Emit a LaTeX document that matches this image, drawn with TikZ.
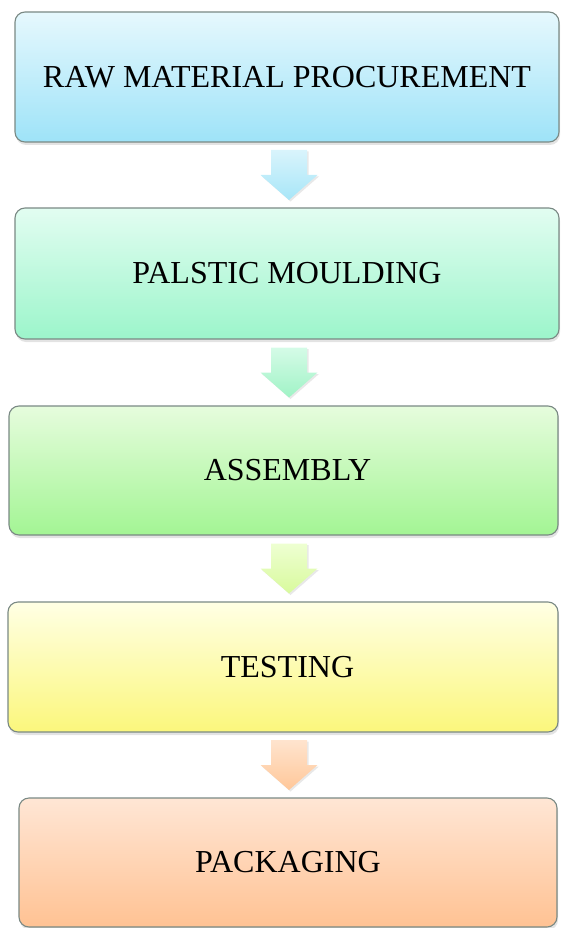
\documentclass[tikz,border=0pt]{standalone}
\usepackage{fontspec}
\setmainfont{Liberation Serif}
\usetikzlibrary{calc,shadows}

\definecolor{stageline}{HTML}{7A8984}
\definecolor{rawTop}{HTML}{E6F8FD}
\definecolor{rawBot}{HTML}{9EE3F8}
\definecolor{mouldTop}{HTML}{E2FDF1}
\definecolor{mouldBot}{HTML}{9CF5CB}
\definecolor{assyTop}{HTML}{E6FCDD}
\definecolor{assyBot}{HTML}{A3F594}
\definecolor{testTop}{HTML}{FFFFE4}
\definecolor{testBot}{HTML}{FBF77C}
\definecolor{packTop}{HTML}{FFE6D5}
\definecolor{packBot}{HTML}{FFC293}

\tikzset{
  stage/.style={draw=stageline, line width=1.1pt, rounded corners=10pt, inner sep=0pt,
    font=\fontsize{32}{36}\selectfont,
    drop shadow={shadow xshift=1pt, shadow yshift=-3pt, opacity=0.22}},
  flowarrow/.style={drop shadow={shadow xshift=1.5pt, shadow yshift=-1.5pt, opacity=0.18}},
}

\begin{document}
\begin{tikzpicture}[x=1pt, y=-1pt]
  \useasboundingbox (0,0) rectangle (560,928);
  %
  \node[stage, minimum width=544, minimum height=130, top color=rawTop, bottom color=rawBot]
    (raw) at (287,77) {RAW MATERIAL PROCUREMENT};          % stage 1
  \node[stage, minimum width=544, minimum height=131, top color=mouldTop, bottom color=mouldBot]
    (mould) at (287,273.5) {PALSTIC MOULDING};              % stage 2
  \node[stage, minimum width=549, minimum height=129, top color=assyTop, bottom color=assyBot]
    (assy) at (283.5,470.5) {\kern8pt ASSEMBLY};            % stage 3
  \node[stage, minimum width=550, minimum height=130, top color=testTop, bottom color=testBot]
    (test) at (283,667) {\kern9pt TESTING};                 % stage 4
  \node[stage, minimum width=538, minimum height=129, top color=packTop, bottom color=packBot]
    (pack) at (288,862.5) {PACKAGING};                      % stage 5
  %
  \coordinate (axis) at (289,0);                            % arrow centre line
  %
  \foreach \a/\b/\ct/\cb in {raw/mould/D9F4FC/A7E6F8, mould/assy/D5FBE7/A0F3C6,
                             assy/test/EEFFD2/D8FA9C, test/pack/FFE4CE/FFC799}{
    \definecolor{arrTop}{HTML}{\ct}
    \definecolor{arrBot}{HTML}{\cb}
    \coordinate (mid) at ($(\a.south)!0.5!(\b.north)$);
    \path[flowarrow, top color=arrTop, bottom color=arrBot]
      ($(axis |- mid)+(-18,-25)$) -- ($(axis |- mid)+(18,-25)$) -- ($(axis |- mid)+(18,0)$)
      -- ($(axis |- mid)+(28.5,0)$) -- ($(axis |- mid)+(0,25)$) -- ($(axis |- mid)+(-28.5,0)$)
      -- ($(axis |- mid)+(-18,0)$) -- cycle;
  }
  %
\end{tikzpicture}
\end{document}
